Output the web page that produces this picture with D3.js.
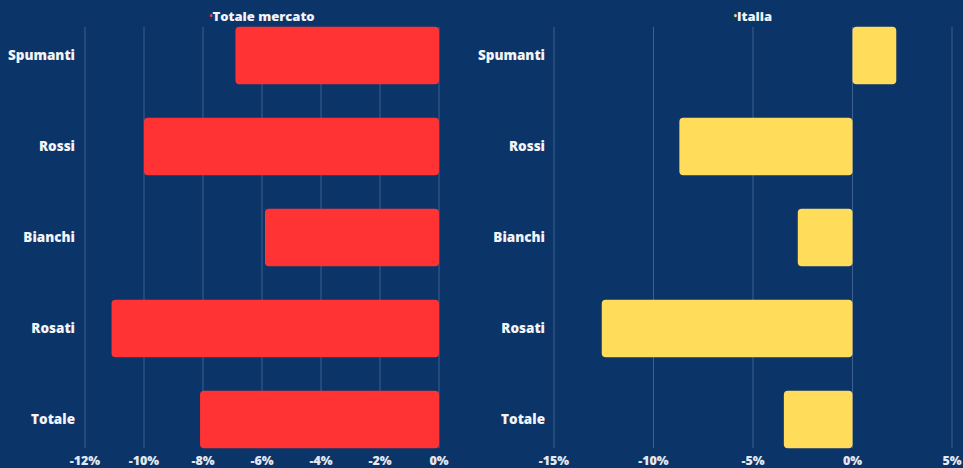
<!DOCTYPE html>
<html>
<head>
<meta charset="utf-8">
<script src="https://cdn.jsdelivr.net/npm/d3@7"></script>
<style>
  body { margin: 0; background: #0b3468; }
  text { font-family: "Open Sans", sans-serif; font-weight: 800; }
</style>
</head>
<body>
<div id="chart"></div>
<script>
let categories = ["Spumanti", "Rossi", "Bianchi", "Rosati", "Totale"]
let totaleMercato = [-6.9, -10.0, -5.9, -11.1, -8.1]
let italia = [2.2, -8.7, -2.75, -12.6, -3.45]
let leftTicks = [-12, -10, -8, -6, -4, -2, 0]
let rightTicks = [-15, -10, -5, 0, 5]

let width = 963,
    height = 468
let svg = d3.select("#chart").append("svg")
    .attr("width", width)
    .attr("height", height)
svg.append("rect").attr("width", width).attr("height", height).attr("fill", "#0b3468")

let yScale = d3.scaleBand()
    .domain(categories)
    .range([10, 465])
    .paddingInner(0.37)
    .paddingOuter(0.185)

function panel(values, title, color, x0, x1, domain, ticks, labelX) {
    let xScale = d3.scaleLinear().domain(domain).range([x0, x1])
    let g = svg.append("g")
    let top = yScale(categories[0]),
        bottom = yScale(categories[categories.length - 1]) + yScale.bandwidth()

    g.selectAll(".grid")
        .data(ticks)
        .enter()
        .append("line")
        .attr("x1", function(d) { return xScale(d) })
        .attr("x2", function(d) { return xScale(d) })
        .attr("y1", top)
        .attr("y2", bottom)
        .attr("stroke", "#3f5f8e")
        .attr("stroke-width", 1)

    g.selectAll(".bar")
        .data(values)
        .enter()
        .append("rect")
        .attr("x", function(d) { return xScale(Math.min(0, d)) })
        .attr("y", function(d, i) { return yScale(categories[i]) })
        .attr("width", function(d) { return Math.abs(xScale(d) - xScale(0)) })
        .attr("height", yScale.bandwidth())
        .attr("rx", 4)
        .attr("fill", color)

    g.selectAll(".cat")
        .data(categories)
        .enter()
        .append("text")
        .attr("x", labelX)
        .attr("y", function(d) { return yScale(d) + yScale.bandwidth() / 2 })
        .attr("dy", "0.35em")
        .attr("text-anchor", "end")
        .attr("fill", "#f2f4f8")
        .attr("font-size", 13.5)
        .text(function(d) { return d })

    g.selectAll(".tick")
        .data(ticks)
        .enter()
        .append("text")
        .attr("x", function(d) { return xScale(d) })
        .attr("y", 465)
        .attr("text-anchor", "middle")
        .attr("fill", "#e4e8f0")
        .attr("font-size", 12.5)
        .text(function(d) { return d + "%" })

    let t = g.append("text")
        .attr("x", (x0 + x1) / 2)
        .attr("y", 21)
        .attr("text-anchor", "middle")
        .attr("fill", "#f2f4f8")
        .attr("font-size", 13)
    t.append("tspan").attr("fill", color).attr("font-size", 8).attr("dy", "-2").text("•")
    t.append("tspan").attr("dy", "2").text(title)
}

panel(totaleMercato, "Totale mercato", "#ff3333", 85, 439, [-12, 0], leftTicks, 75)
panel(italia, "Italia", "#ffdc5a", 554, 952, [-15, 5], rightTicks, 545)
</script>
</body>
</html>
